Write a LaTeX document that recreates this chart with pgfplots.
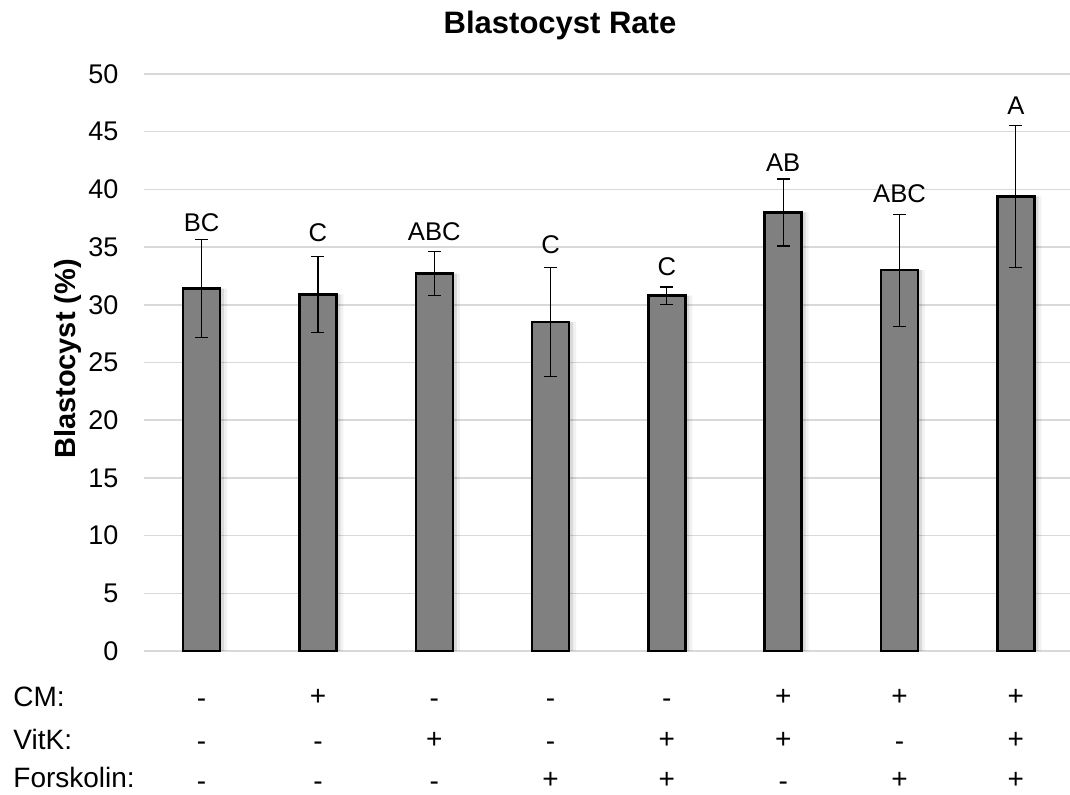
\documentclass[border=0pt]{standalone}
\usepackage{pgfplots}
\usepackage{pgfplotstable}
\pgfplotsset{compat=1.18}
\usepackage{fontspec}
\setmainfont{Liberation Sans}
\definecolor{barfill}{RGB}{128,128,128}
\definecolor{gridc}{RGB}{217,217,217}

\pgfplotstableread{
x y err
0 31.4 4.25
1 30.9 3.3
2 32.7 1.9
3 28.5 4.7
4 30.8 0.75
5 38.0 2.9
6 33.0 4.85
7 39.4 6.15
}\datatable

\newcommand{\rowsign}[3]{\ifx+#3\node at (axis cs:#1,#2) {+};\else\node[yshift=-1.2pt] at (axis cs:#1,#2) {-};\fi}

\begin{document}
\begin{tikzpicture}[x=1pt,y=1pt]
\useasboundingbox (0,0) rectangle (535,397.5);
\begin{axis}[
  at={(71.75pt,72pt)}, anchor=south west,
  scale only axis, width=463.25pt, height=288.5pt,
  xmin=-0.5, xmax=7.466, ymin=0, ymax=50,
  ytick={0,5,...,50}, xtick=\empty,
  ymajorgrids, grid style={gridc, line width=0.75pt},
  axis line style={draw=none},
  major tick style={draw=none},
  clip=false,
  yticklabel style={font=\fontsize{13.5}{13.5}\selectfont, xshift=-9pt},
  /pgf/number format/assume math mode=true,
]
% shadow layers
\addplot[ybar, bar width=18.5pt, bar shift=3.5pt, fill=black, fill opacity=0.05, draw=none] table[x=x,y=y]{\datatable};
\addplot[ybar, bar width=18.5pt, bar shift=2pt, fill=black, fill opacity=0.10, draw=none] table[x=x,y=y]{\datatable};
% bars
\addplot[ybar, bar width=18.5pt, bar shift=0pt, fill=barfill, draw=black, line width=1.2pt,
  error bars/.cd, y dir=both, y explicit,
  error bar style={line width=0.6pt, black},
  error mark options={rotate=90, mark size=3.25pt, line width=0.6pt, black}]
  table[x=x,y=y,y error=err]{\datatable};

% significance letters
\begin{scope}[every node/.style={anchor=base, inner sep=0pt, font=\fontsize{12.8}{12.8}\selectfont}]
\node at (axis cs:0,36.33) {BC};
\node at (axis cs:1,35.47) {C};
\node at (axis cs:2,35.56) {ABC};
\node at (axis cs:3,34.46) {C};
\node at (axis cs:4,32.58) {C};
\node at (axis cs:5,41.53) {AB};
\node at (axis cs:6,38.85) {ABC};
\node at (axis cs:7,46.45) {A};
\end{scope}

% treatment rows
\begin{scope}[every node/.style={anchor=base, inner sep=0pt, font=\fontsize{14}{14}\selectfont}]
\node[anchor=base west] at (axis cs:-1.622,-4.78) {CM:};
\node[anchor=base west] at (axis cs:-1.622,-8.5) {VitK:};
\node[anchor=base west] at (axis cs:-1.622,-11.85) {Forskolin:};
\rowsign{0}{-4.72}{-}\rowsign{1}{-4.72}{+}\rowsign{2}{-4.72}{-}\rowsign{3}{-4.72}{-}
\rowsign{4}{-4.72}{-}\rowsign{5}{-4.72}{+}\rowsign{6}{-4.72}{+}\rowsign{7}{-4.72}{+}
\rowsign{0}{-8.41}{-}\rowsign{1}{-8.41}{-}\rowsign{2}{-8.41}{+}\rowsign{3}{-8.41}{-}
\rowsign{4}{-8.41}{+}\rowsign{5}{-8.41}{+}\rowsign{6}{-8.41}{-}\rowsign{7}{-8.41}{+}
\rowsign{0}{-11.9}{-}\rowsign{1}{-11.9}{-}\rowsign{2}{-11.9}{-}\rowsign{3}{-11.9}{+}
\rowsign{4}{-11.9}{+}\rowsign{5}{-11.9}{-}\rowsign{6}{-11.9}{+}\rowsign{7}{-11.9}{+}
\end{scope}
\end{axis}
\node[font=\bfseries\fontsize{15.5}{15.5}\selectfont] at (280,384.5) {Blastocyst Rate};
\node[rotate=90, font=\bfseries\fontsize{14.5}{14.5}\selectfont] at (34,218) {Blastocyst (\%)};
\end{tikzpicture}
\end{document}
